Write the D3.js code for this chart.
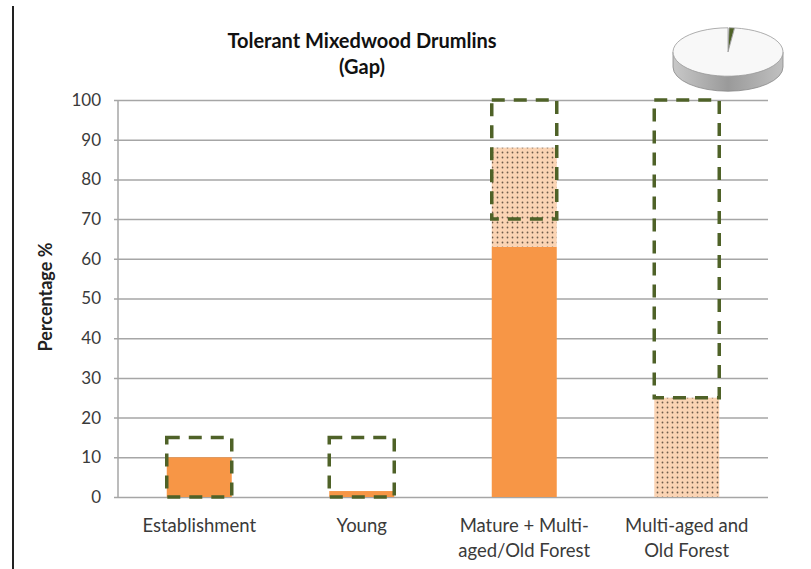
<!DOCTYPE html>
<html lang="en">
<head>
    <meta charset="UTF-8">
    <title>Tolerant Mixedwood Drumlins (Gap)</title>
    <script src="https://unpkg.com/d3@7.8.5/dist/d3.min.js"></script>
    <style>
        * { margin: 0; padding: 0; box-sizing: border-box; }
        body { background: #fff; }
        svg { display: block; font-family: Lato, "Open Sans", sans-serif; }
    </style>
</head>
<body>
    <svg class="cc" width="811" height="569"></svg>
    <script>
        // 数据
        const categories = ['Establishment', 'Young', 'Mature + Multi-aged/Old Forest', 'Multi-aged and Old Forest']
        const catLines = [['Establishment'], ['Young'], ['Mature + Multi-', 'aged/Old Forest'], ['Multi-aged and', 'Old Forest']]
        const currentPct = [10, 1.5, 63, 0]
        const futurePct = [0, 0, 25, 25]
        const rangeLow = [0, 0, 70, 25]
        const rangeHigh = [15, 15, 100, 100]
        const yTicks = [0, 10, 20, 30, 40, 50, 60, 70, 80, 90, 100]
        const pieValues = [98.4, 1.6]

        const svg = d3.select('svg')
        const m = { left: 118, right: 768, top: 100, bottom: 497 }

        const x = d3.scaleBand().domain(categories).range([m.left, m.right]).paddingInner(0.6).paddingOuter(0.3)
        const y = d3.scaleLinear().domain([0, 100]).range([m.bottom, m.top])

        // 点状填充
        const defs = svg.append('defs')
        const pat = defs.append('pattern')
            .attr('id', 'dots').attr('width', 5).attr('height', 5)
            .attr('patternUnits', 'userSpaceOnUse')
        pat.append('rect').attr('width', 5).attr('height', 5).attr('fill', '#fbd4b4')
        pat.append('circle').attr('cx', 2.5).attr('cy', 2.5).attr('r', 0.9).attr('fill', '#6e5c4a')

        // 左边黑线
        svg.append('line').attr('x1', 13).attr('x2', 13).attr('y1', 6).attr('y2', 569)
            .attr('stroke', '#222').attr('stroke-width', 2)

        // 网格线
        const grid = svg.append('g').attr('transform', `translate(${m.left},0)`)
            .call(d3.axisLeft(y).tickValues(yTicks).tickSize(-(m.right - m.left)).tickFormat(''))
        grid.select('.domain').remove()
        grid.selectAll('line').attr('stroke', '#a6a6a6').attr('stroke-width', 1.5).attr('x1', -4)

        // y轴
        svg.append('line').attr('x1', m.left).attr('x2', m.left).attr('y1', m.top).attr('y2', m.bottom)
            .attr('stroke', '#a6a6a6').attr('stroke-width', 1.5)
        const yAxis = svg.append('g').attr('transform', `translate(${m.left},0)`)
            .call(d3.axisLeft(y).tickValues(yTicks).tickSize(0).tickPadding(17))
        yAxis.select('.domain').remove()
        yAxis.selectAll('text').attr('font-size', 17).attr('fill', '#3a3a3a').attr('font-family', 'Lato, sans-serif')

        svg.append('text').attr('transform', 'translate(52,297) rotate(-90)')
            .attr('text-anchor', 'middle').attr('font-size', 18).attr('font-weight', 'bold').attr('fill', '#222')
            .text('Percentage %')

        // 柱子
        const bars = svg.append('g')
        bars.selectAll('.cur').data(categories).join('rect')
            .attr('class', 'cur')
            .attr('x', d => x(d)).attr('width', x.bandwidth())
            .attr('y', (d, i) => y(currentPct[i]))
            .attr('height', (d, i) => y(0) - y(currentPct[i]))
            .attr('fill', '#f79646')
        bars.selectAll('.fut').data(categories).join('rect')
            .attr('class', 'fut')
            .attr('x', d => x(d)).attr('width', x.bandwidth())
            .attr('y', (d, i) => y(currentPct[i] + futurePct[i]))
            .attr('height', (d, i) => y(currentPct[i]) - y(currentPct[i] + futurePct[i]))
            .attr('fill', 'url(#dots)')

        // 范围虚线框
        bars.selectAll('.rng').data(categories).join('rect')
            .attr('class', 'rng')
            .attr('x', d => x(d)).attr('width', x.bandwidth())
            .attr('y', (d, i) => y(rangeHigh[i]))
            .attr('height', (d, i) => y(rangeLow[i]) - y(rangeHigh[i]))
            .attr('fill', 'none').attr('stroke', '#4f6228').attr('stroke-width', 3.5)
            .attr('stroke-dasharray', '13,9')

        // x轴标签
        const xl = svg.append('g')
        categories.forEach((c, i) => {
            const cx = x(c) + x.bandwidth() / 2
            const t = xl.append('text').attr('x', cx).attr('y', 532)
                .attr('text-anchor', 'middle').attr('font-size', 18.5).attr('fill', '#3a3a3a')
            catLines[i].forEach((s, j) => {
                t.append('tspan').attr('x', cx).attr('dy', j ? 25 : 0).text(s)
            })
        })

        // 标题
        svg.append('text').attr('x', 362).attr('y', 48).attr('text-anchor', 'middle')
            .attr('font-size', 20).attr('font-weight', 'bold').attr('fill', '#111').text('Tolerant Mixedwood Drumlins')
        svg.append('text').attr('x', 362).attr('y', 74).attr('text-anchor', 'middle')
            .attr('font-size', 20).attr('font-weight', 'bold').attr('fill', '#111').text('(Gap)')

        // 3D 饼图
        const pcx = 728, pcy = 52, pr = 55, squash = 0.44, depth = 15
        const grad = defs.append('linearGradient').attr('id', 'side').attr('x1', 0).attr('x2', 1)
        grad.append('stop').attr('offset', '0%').attr('stop-color', '#c8c8c8')
        grad.append('stop').attr('offset', '50%').attr('stop-color', '#9a9a9a')
        grad.append('stop').attr('offset', '100%').attr('stop-color', '#c0c0c0')
        const pg = svg.append('g')
        pg.append('path')
            .attr('d', `M${pcx - pr},${pcy} L${pcx - pr},${pcy + depth} A${pr},${pr * squash} 0 0 0 ${pcx + pr},${pcy + depth} L${pcx + pr},${pcy} Z`)
            .attr('fill', 'url(#side)').attr('stroke', '#888').attr('stroke-width', 0.8)
        const pieG = pg.append('g').attr('transform', `translate(${pcx},${pcy}) scale(1,${squash})`)
        const arcs = d3.pie().sort(null).startAngle(0.02)(pieValues.slice().reverse())
        const arcGen = d3.arc().innerRadius(0).outerRadius(pr)
        pieG.selectAll('path').data(arcs).join('path')
            .attr('d', arcGen)
            .attr('fill', (d, i) => i === 0 ? '#4f6228' : '#f8f8f8')
            .attr('stroke', '#999').attr('stroke-width', 0.8).attr('vector-effect', 'non-scaling-stroke')
    </script>
</body>
</html>
